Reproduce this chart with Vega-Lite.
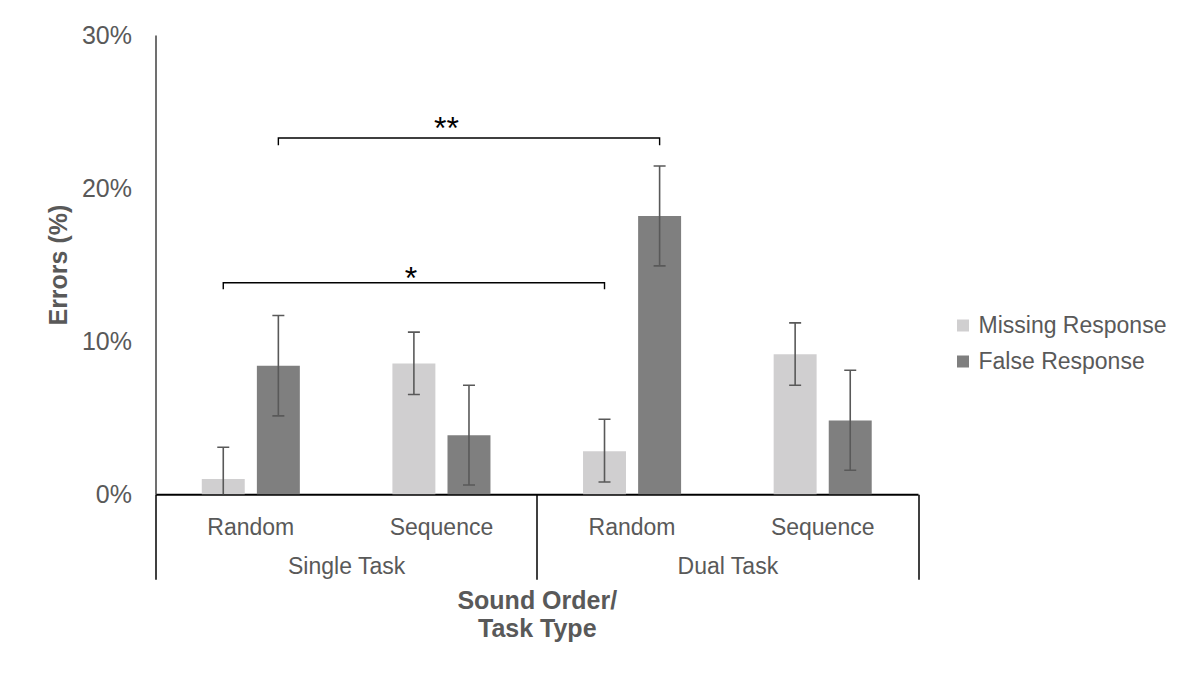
{
  "$schema": "https://vega.github.io/schema/vega-lite/v6.json",
  "width": 762.5,
  "height": 459.3,
  "autosize": {"type": "none"},
  "padding": {"left": 155.5, "top": 35, "right": 272, "bottom": 180.7},
  "config": {"font": "Liberation Sans", "view": {"stroke": null}, "axis": {"grid": false}},
  "datasets": {
    "bars": [
      {"cond": "Single Task|Random", "resp": "Missing Response", "value": 1.0, "lo": -1.07, "hi": 3.07},
      {"cond": "Single Task|Random", "resp": "False Response", "value": 8.4, "lo": 5.12, "hi": 11.68},
      {"cond": "Single Task|Sequence", "resp": "Missing Response", "value": 8.55, "lo": 6.52, "hi": 10.59},
      {"cond": "Single Task|Sequence", "resp": "False Response", "value": 3.86, "lo": 0.61, "hi": 7.12},
      {"cond": "Dual Task|Random", "resp": "Missing Response", "value": 2.81, "lo": 0.8, "hi": 4.9},
      {"cond": "Dual Task|Random", "resp": "False Response", "value": 18.17, "lo": 14.92, "hi": 21.44},
      {"cond": "Dual Task|Sequence", "resp": "Missing Response", "value": 9.15, "lo": 7.12, "hi": 11.2},
      {"cond": "Dual Task|Sequence", "resp": "False Response", "value": 4.82, "lo": 1.57, "hi": 8.1}
    ],
    "brackets": [
      {"b": "two", "ord": 1, "cond": "Single Task|Random", "resp": "False Response", "y": 22.8},
      {"b": "two", "ord": 2, "cond": "Single Task|Random", "resp": "False Response", "y": 23.27},
      {"b": "two", "ord": 3, "cond": "Dual Task|Random", "resp": "False Response", "y": 23.27},
      {"b": "two", "ord": 4, "cond": "Dual Task|Random", "resp": "False Response", "y": 22.8},
      {"b": "one", "ord": 1, "cond": "Single Task|Random", "resp": "Missing Response", "y": 13.4},
      {"b": "one", "ord": 2, "cond": "Single Task|Random", "resp": "Missing Response", "y": 13.82},
      {"b": "one", "ord": 3, "cond": "Dual Task|Random", "resp": "Missing Response", "y": 13.82},
      {"b": "one", "ord": 4, "cond": "Dual Task|Random", "resp": "Missing Response", "y": 13.4}
    ],
    "tasks": [{"task": "Single Task"}, {"task": "Dual Task"}]
  },
  "layer": [
    {
      "layer": [
        {
          "data": {"name": "bars"},
          "mark": {"type": "bar"},
          "encoding": {
            "x": {
              "field": "cond", "type": "nominal", "title": null,
              "scale": {"domain": ["Single Task|Random", "Single Task|Sequence", "Dual Task|Random", "Dual Task|Sequence"], "paddingInner": 0, "paddingOuter": 0},
              "axis": {"orient": "bottom", "title": null, "labelExpr": "split(datum.label, '|')[1]", "ticks": false, "tickSize": 0, "labelPadding": 22, "labelFontSize": 23, "labelColor": "#595959", "domainColor": "#000000", "domainWidth": 2, "labelAngle": 0}
            },
            "xOffset": {"field": "resp", "type": "nominal", "scale": {"domain": ["Missing Response", "False Response"], "paddingInner": 0.22, "paddingOuter": 0.84}},
            "y": {
              "field": "value", "type": "quantitative", "title": "Errors (%)",
              "scale": {"domain": [0, 30], "nice": false},
              "axis": {"title": "Errors (%)", "values": [0, 10, 20, 30], "labelExpr": "datum.value + '%'", "ticks": false, "tickSize": 0, "labelPadding": 24, "labelFontSize": 25, "labelColor": "#595959", "domainColor": "#404040", "domainWidth": 1.5, "titleFontSize": 25, "titleFontWeight": "bold", "titleColor": "#595959", "titleX": -89.5, "titleY": 229.6, "titleBaseline": "alphabetic", "titleAngle": -90, "grid": false}
            },
            "color": {
              "field": "resp", "type": "nominal",
              "scale": {"domain": ["Missing Response", "False Response"], "range": ["#d0cfd0", "#7f7f7f"]},
              "legend": {"title": null, "orient": "none", "legendX": 796, "legendY": 279, "symbolType": "square", "symbolSize": 144, "symbolStrokeWidth": 0, "symbolOpacity": 1, "labelFontSize": 23, "labelColor": "#595959", "labelOffset": 4, "labelLimit": 0, "rowPadding": 12}
            }
          }
        },
        {
          "data": {"name": "bars"},
          "mark": {"type": "rule", "color": "#595959", "strokeWidth": 1.6, "clip": true},
          "encoding": {
            "x": {"field": "cond", "type": "nominal", "title": null},
            "xOffset": {"field": "resp", "type": "nominal"},
            "y": {"field": "lo", "type": "quantitative", "title": "Errors (%)"},
            "y2": {"field": "hi"}
          }
        },
        {
          "data": {"name": "bars"},
          "mark": {"type": "tick", "color": "#595959", "thickness": 1.6, "size": 12, "clip": true, "opacity": 1},
          "encoding": {
            "x": {"field": "cond", "type": "nominal", "title": null},
            "xOffset": {"field": "resp", "type": "nominal"},
            "y": {"field": "lo", "type": "quantitative", "title": "Errors (%)"}
          }
        },
        {
          "data": {"name": "bars"},
          "mark": {"type": "tick", "color": "#595959", "thickness": 1.6, "size": 12, "clip": true, "opacity": 1},
          "encoding": {
            "x": {"field": "cond", "type": "nominal", "title": null},
            "xOffset": {"field": "resp", "type": "nominal"},
            "y": {"field": "hi", "type": "quantitative", "title": "Errors (%)"}
          }
        },
        {
          "data": {"name": "brackets"},
          "mark": {"type": "line", "color": "#000000", "strokeWidth": 1.4},
          "encoding": {
            "x": {"field": "cond", "type": "nominal", "title": null},
            "xOffset": {"field": "resp", "type": "nominal"},
            "y": {"field": "y", "type": "quantitative", "title": "Errors (%)"},
            "detail": {"field": "b"},
            "order": {"field": "ord", "type": "quantitative"}
          }
        },
        {
          "data": {"values": [{"cond": "Single Task|Sequence", "y": 23.18, "label": "**"}]},
          "mark": {"type": "text", "fontSize": 32, "color": "#000000", "baseline": "alphabetic", "align": "center", "dx": 5},
          "encoding": {
            "x": {"field": "cond", "type": "nominal", "title": null},
            "y": {"field": "y", "type": "quantitative", "title": "Errors (%)"},
            "text": {"field": "label"}
          }
        },
        {
          "data": {"values": [{"cond": "Single Task|Sequence", "resp": "Missing Response", "y": 13.43, "label": "*"}]},
          "mark": {"type": "text", "fontSize": 32, "color": "#000000", "baseline": "alphabetic", "align": "center", "dx": -3},
          "encoding": {
            "x": {"field": "cond", "type": "nominal", "title": null},
            "xOffset": {"field": "resp", "type": "nominal"},
            "y": {"field": "y", "type": "quantitative", "title": "Errors (%)"},
            "text": {"field": "label"}
          }
        }
      ]
    },
    {
      "data": {"name": "tasks"},
      "mark": {"type": "point", "opacity": 0},
      "encoding": {
        "x": {
          "field": "task", "type": "nominal",
          "scale": {"type": "band", "domain": ["Single Task", "Dual Task"], "paddingInner": 0, "paddingOuter": 0},
          "axis": {"orient": "bottom", "title": ["Sound Order/", "Task Type"], "tickBand": "extent", "ticks": true, "tickSize": 85, "tickColor": "#000000", "tickWidth": 1.5, "domain": false, "labelPadding": -24, "labelFontSize": 23, "labelColor": "#595959", "labelAngle": 0, "titleFontSize": 25, "titleFontWeight": "bold", "titleColor": "#595959", "titleBaseline": "alphabetic", "titleY": 113.7, "titleLineHeight": 28}
        }
      }
    }
  ],
  "resolve": {"scale": {"x": "independent"}, "axis": {"x": "independent"}}
}
